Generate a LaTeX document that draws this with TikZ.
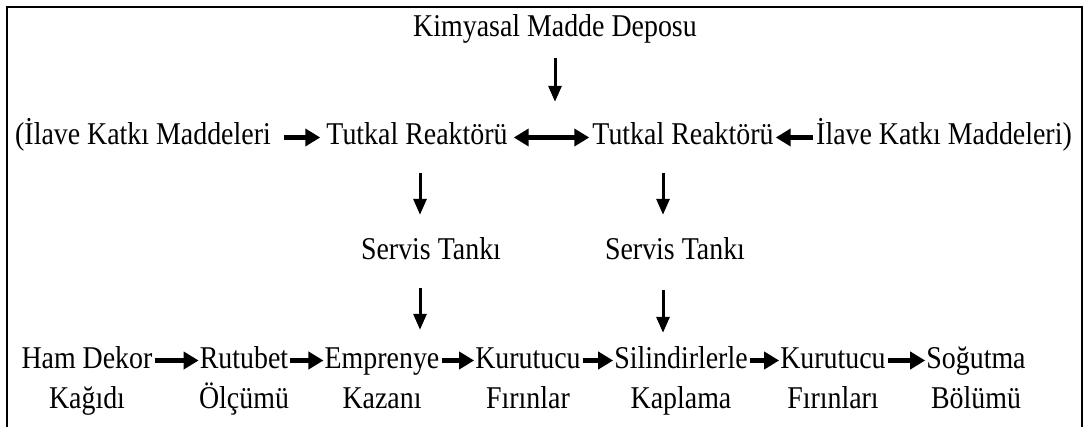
\documentclass[tikz,border=0pt]{standalone}
\usepackage{fontspec}
\newfontfamily\diagfont{Liberation Serif}[FakeStretch=0.88]
\usetikzlibrary{arrows.meta}

\tikzset{
  stage/.style={font=\diagfont\fontsize{31.7}{38}\selectfont, inner sep=0pt,
    text height=22pt, text depth=7pt, anchor=base},
  flow/.style={line width=5pt, -{Triangle[length=15pt,width=17pt]}},
  twoway/.style={line width=4.5pt,
    {Triangle[length=15pt,width=17pt]}-{Triangle[length=15pt,width=17pt]}},
  feed/.style={line width=3pt, -{Triangle[length=16pt,width=13pt]}}
}

\begin{document}
\begin{tikzpicture}[x=1pt,y=-1pt]
    \useasboundingbox (0,0) rectangle (1086,427);

    % frame
    \draw[line width=2.3pt] (7,427) -- (7,7) -- (1082,7) -- (1082,427);

    % depot
    \node[stage] (depo) at (555,37) {Kimyasal Madde Deposu};

    % reactors
    \node[stage] (katkiL) at (143,145) {(İlave Katkı Maddeleri};
    \node[stage] (reakL) at (417,145) {Tutkal Reaktörü};
    \node[stage] (reakR) at (683,145) {Tutkal Reaktörü};
    \node[stage] (katkiR) at (944,145) {İlave Katkı Maddeleri)};
    \draw[flow, shorten <=13pt, shorten >=6pt] (katkiL.east) -- (reakL.west);
    \draw[twoway, shorten <=6pt, shorten >=3pt] (reakL.east) -- (reakR.west);
    \draw[flow, shorten <=3pt, shorten >=2pt] (katkiR.west) -- (reakR.east);
    \draw[feed, shorten <=14pt, shorten >=21pt] (depo.south) -- (depo.south |- reakL.north);

    % service tanks
    \path (420,0) coordinate (colL);
    \path (663,0) coordinate (colR);
    \node[stage] (servisL) at (431,260) {Servis Tankı};
    \node[stage] (servisR) at (675,260) {Servis Tankı};
    \draw[feed, shorten <=21pt, shorten >=23pt] (colL |- reakL.south) -- (colL |- servisL.north);
    \draw[feed, shorten <=21pt, shorten >=23pt] (colR |- reakR.south) -- (colR |- servisR.north);

    % line
    \foreach \n/\x/\one/\two in {ham/87/Ham Dekor/Kağıdı, rut/244/Rutubet/Ölçümü,
      emp/382/Emprenye/Kazanı, kur1/528/Kurutucu/Fırınlar, sil/681/Silindirlerle/Kaplama,
      kur2/833/Kurutucu/Fırınları, sog/976/Soğutma/Bölümü}
    {
      \node[stage] (\n) at (\x,368) {\one};
      \node[stage] (\n-2) at (\x,408) {\two};
    }
    \foreach \a/\b in {ham/rut, rut/emp, emp/kur1, kur1/sil, sil/kur2, kur2/sog}
      \draw[flow, shorten <=2pt, shorten >=1pt] (\a.east) -- (\b.west);
    \draw[feed, shorten <=21pt, shorten >=16pt] (colL |- servisL.south) -- (colL |- emp.north);
    \draw[feed, shorten <=23pt, shorten >=13pt] (colR |- servisR.south) -- (colR |- sil.north);

\end{tikzpicture}
\end{document}
